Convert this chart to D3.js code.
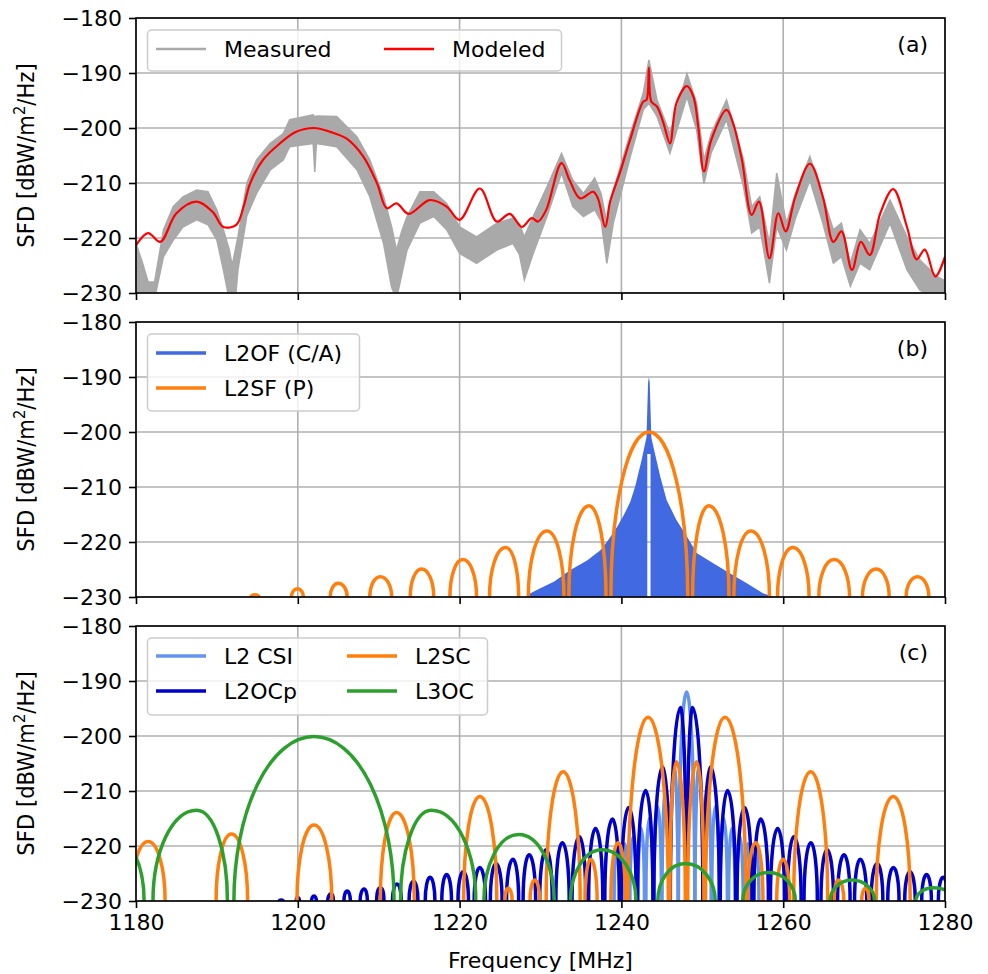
<!DOCTYPE html>
<html><head><meta charset="utf-8">
<script src="https://cdn.jsdelivr.net/npm/d3@7"></script>
<style>body{margin:0;background:#fff}</style>
</head><body><svg id="c" width="988" height="974"></svg>
<script>
// ---------- data ----------
const xTicks = [1180, 1200, 1220, 1240, 1260, 1280];
const yTicks = [-230, -220, -210, -200, -190, -180];

// Panel (a): measured band (upper / lower envelope) and modeled curve
const measuredF  = [1180,1180.8,1181.5,1182.3,1183.4,1184.6,1185.8,1187.5,1188.9,1190.0,1190.8,1191.5,1191.9,1192.3,1192.6,1193.7,1194.9,1196.6,1198.2,1199.0,1201.9,1202.1,1202.3,1204.8,1207.3,1208.9,1210.6,1211.6,1212.2,1212.8,1213.5,1215.1,1216.8,1218.4,1220.0,1222.1,1224.6,1226.6,1227.4,1228.0,1229.1,1230.8,1232.6,1234.0,1235.3,1236.7,1237.5,1238.2,1239.0,1241.1,1242.7,1243.4,1244.4,1246.0,1248.1,1249.3,1250.2,1251.1,1253.0,1255.1,1256.1,1257.1,1258.3,1259.2,1260.4,1261.5,1263.3,1264.9,1266.2,1267.2,1268.3,1269.5,1270.7,1273.2,1275.3,1276.9,1279.0,1280];
const measuredHi = [-221,-224.5,-228,-228,-218.5,-214.3,-212.5,-211.3,-211.6,-214.9,-218.5,-222,-225,-222,-219.8,-210,-205.8,-202.8,-201.0,-198.5,-197.6,-198,-197.8,-197.9,-201.6,-205.8,-212.5,-218,-222.2,-219,-216.1,-211.6,-211.6,-213.7,-218.0,-219.8,-217.3,-216.4,-217.5,-219.8,-216.1,-210.7,-204.6,-209.5,-211.9,-209.1,-212,-217.3,-211.3,-201.0,-193.7,-187.6,-194.9,-201.0,-190.1,-195.5,-205.8,-201,-194.9,-205.8,-214.3,-212.5,-221,-208.2,-217.3,-212,-205.2,-212.5,-218.5,-217.3,-224.6,-218.5,-221,-213.1,-219.8,-224,-227,-227.8];
const measuredLo = [-231,-231,-231,-231,-223.4,-220.4,-218.0,-216.7,-217.6,-220.4,-225.8,-231,-231,-231,-225.8,-216,-211.9,-207.6,-205.8,-203.4,-202.8,-208,-202.8,-203.4,-207.6,-212.5,-221,-229,-231,-227,-222.2,-217.3,-216.1,-218.5,-222.8,-224.6,-222.2,-221.0,-223,-227.6,-222.8,-216.1,-208.2,-214.3,-216.1,-214.9,-217,-224.6,-217.3,-205.2,-196.7,-195.5,-197.9,-204.6,-194.3,-200.4,-210.1,-204.5,-198.5,-210.7,-219.1,-218,-228.2,-218,-222.2,-216.5,-209.5,-217.3,-224.6,-223.4,-228.8,-224.6,-225.8,-217.3,-225.8,-229.5,-231,-231];
const modeledF = [1180,1181.5,1183.0,1185.0,1187.5,1189.5,1190.8,1192.4,1193.3,1194.1,1195.7,1197.8,1199.8,1202.0,1204.0,1206.0,1208.1,1209.8,1211.0,1212.2,1213.7,1216.3,1218.4,1220.0,1222.5,1224.6,1226.2,1227.7,1228.9,1229.7,1230.7,1232.6,1233.6,1234.9,1236.5,1237.1,1238.0,1238.6,1239.8,1241.0,1242.7,1243.1,1243.4,1243.7,1244.4,1245.2,1246.0,1246.8,1248.1,1248.9,1249.5,1250.2,1251.1,1253.0,1253.8,1254.9,1256.1,1257.0,1258.3,1259.4,1260.3,1261.5,1263.3,1264.9,1266.2,1267.2,1268.5,1269.6,1270.7,1272.0,1273.6,1275.3,1276.5,1277.5,1278.8,1280];
const modeledV = [-221.3,-219.1,-220.7,-215.5,-213.4,-215.3,-218.0,-217.6,-214.3,-210.1,-205.8,-202.8,-200.7,-200.0,-200.7,-201.9,-205.2,-210.1,-214.6,-213.7,-215.6,-213.1,-214.3,-216.7,-211.0,-217.0,-215.6,-218.0,-216.4,-217.0,-214.9,-206.4,-209.5,-212.8,-211.6,-212.8,-218.0,-213.4,-208.2,-202.5,-195.2,-194.9,-189.0,-195.2,-196.1,-199.1,-202.8,-195.5,-192.4,-194.3,-199.8,-207.9,-202.2,-196.7,-199.1,-205.8,-215.8,-213.4,-223.7,-215.5,-218.8,-212.5,-206.5,-212.5,-220.7,-218.8,-225.8,-220.7,-223.1,-215.5,-211.1,-218.0,-223.9,-222.1,-227.0,-223.4];

// Panel (b): L2OF (C/A) envelope (with carrier spike) and its central notch
const l2ofF = [1228.2,1228.4,1229.6,1231.7,1233.7,1235.8,1237.4,1238.4,1239.5,1240.3,1241.1,1241.7,1242.1,1242.5,1242.8,1243.1,1243.2,1243.3,1243.4,1243.5,1243.6,1243.7,1244.0,1244.8,1245.6,1246.8,1248.1,1249.3,1251.4,1253.4,1255.5,1257.5,1258.9];
const l2ofV = [-230,-229.6,-228.7,-227.2,-225.1,-223.3,-221.5,-219.6,-217.2,-215.1,-212.7,-209.9,-207.5,-205.1,-203.0,-201,-196,-191,-190,-191,-196,-201,-203.0,-208.1,-212.4,-216,-219,-222,-223.9,-225.7,-227.5,-229.3,-230];
const l2ofNotchF = [1243.2,1243.2,1243.6,1243.6];
const l2ofNotchV = [-231,-204,-204,-231];
// L2SF (P) lobes: [left foot, peak freq, peak level, right foot]
const l2sfLobes = [[1194.2,1194.7,-229.6,1195.2],[1199.2,1199.95,-228.5,1200.7],[1204.0,1205.0,-227.5,1206.1],[1208.9,1210.2,-226.3,1211.6],[1213.9,1215.3,-224.9,1216.8],[1218.8,1220.4,-223.2,1222.1],[1223.7,1225.7,-221.0,1227.3],[1228.5,1230.8,-218.0,1232.9],[1233.5,1236.0,-213.4,1238.1],[1238.7,1243.4,-200.0,1248.2],[1248.8,1250.8,-213.4,1253.3],[1253.9,1256.0,-218.0,1258.3],[1259.3,1261.2,-221.0,1263.2],[1264.4,1266.3,-223.2,1268.2],[1269.8,1271.5,-224.9,1273.1],[1275.2,1276.6,-226.3,1278.0]];

// Panel (c)
const l2csiLobes = [[1247.05,1248.06,-192.0,1249.07],[1246.03,1246.5,-205.5,1247.0],[1249.1,1249.6,-205.5,1250.09],[1245.02,1245.5,-209.9,1245.98],[1250.14,1250.6,-209.9,1251.1],[1244.02,1244.5,-212.8,1244.95],[1251.17,1251.6,-212.8,1252.1],[1243.03,1243.45,-215.0,1243.9],[1252.2,1252.65,-215.0,1253.1],[1242.05,1242.45,-216.8,1242.85],[1253.25,1253.65,-216.8,1254.05],[1241.05,1241.45,-218.3,1241.85],[1254.25,1254.65,-218.3,1255.05],[1240.1,1240.45,-219.6,1240.8],[1255.3,1255.65,-219.6,1256.0],[1239.1,1239.4,-220.7,1239.75],[1256.35,1256.7,-220.7,1257.0]];
const l2ocpLobes = [[1197.7,1197.95,-229.8,1198.2],[1199.8,1200.0,-229.4,1200.2],[1201.7,1202.0,-229.1,1202.3],[1203.7,1204.1,-228.7,1204.4],[1205.7,1206.1,-228.2,1206.5],[1207.7,1208.2,-227.8,1208.6],[1209.75,1210.2,-227.6,1210.65],[1211.7,1212.25,-226.9,1212.8],[1213.75,1214.3,-226.4,1214.85],[1215.75,1216.35,-225.7,1216.95],[1217.8,1218.4,-225.2,1219.0],[1219.8,1220.45,-224.7,1221.1],[1221.8,1222.5,-223.9,1223.2],[1223.8,1224.5,-223.2,1225.25],[1225.8,1226.6,-222.4,1227.3],[1227.85,1228.6,-221.6,1229.4],[1229.9,1230.7,-220.7,1231.45],[1231.9,1232.7,-219.4,1233.55],[1233.9,1234.8,-218.3,1235.6],[1235.95,1236.8,-216.8,1237.7],[1237.95,1238.9,-215.1,1239.75],[1239.97,1240.9,-213.0,1241.83],[1241.99,1243.0,-209.9,1243.9],[1244.01,1245.1,-205.6,1245.97],[1246.05,1247.3,-194.8,1248.03],[1248.09,1248.8,-194.8,1250.07],[1250.15,1251.02,-205.6,1252.11],[1252.22,1253.12,-209.9,1254.13],[1254.29,1255.22,-213.0,1256.15],[1256.37,1257.22,-215.1,1258.17],[1258.42,1259.32,-216.8,1260.17],[1260.52,1261.32,-218.3,1262.22],[1262.57,1263.42,-219.4,1264.22],[1264.67,1265.42,-220.7,1266.22],[1266.72,1267.52,-221.6,1268.27],[1268.82,1269.52,-222.4,1270.32],[1270.87,1271.62,-223.2,1272.32],[1272.92,1273.62,-223.9,1274.32],[1275.02,1275.67,-224.7,1276.32],[1277.12,1277.72,-225.2,1278.32],[1279.17,1279.77,-225.7,1280.37]];
const l2scLobes = [[1179.4,1181.5,-219.2,1183.6],[1189.9,1191.8,-217.8,1193.8],[1199.9,1202.0,-216.2,1204.2],[1210.2,1212.2,-213.9,1214.4],[1220.5,1222.5,-211.0,1224.6],[1225.6,1226.0,-227.7,1226.5],[1228.7,1229.3,-226.2,1229.9],[1230.7,1232.8,-206.5,1234.9],[1235.5,1236.2,-222.4,1237.0],[1238.7,1239.6,-219.4,1240.5],[1240.8,1243.3,-196.6,1245.8],[1246.0,1246.8,-204.7,1247.9],[1248.2,1249.3,-204.7,1250.2],[1250.4,1252.8,-196.6,1255.4],[1255.6,1256.6,-219.4,1257.5],[1259.2,1260.0,-222.4,1260.8],[1261.3,1263.4,-206.5,1265.5],[1266.3,1266.8,-226.2,1267.5],[1269.7,1270.2,-227.7,1270.6],[1271.5,1273.6,-211.0,1275.7]];
const l3ocLobes = [[1172.8,1177.0,-217.9,1181.0],[1182.1,1187.5,-213.5,1191.3],[1192.1,1202.0,-200.1,1211.9],[1212.7,1216.5,-213.5,1222.0],[1223.0,1227.3,-217.9,1231.7],[1233.7,1237.6,-220.7,1241.8],[1244.5,1247.9,-223.2,1251.6],[1255.0,1258.2,-224.8,1261.5],[1265.8,1268.5,-226.2,1271.3],[1276.4,1278.6,-227.6,1281.2]];

// ---------- layout ----------
const svg = d3.select('#c');
const L = 136, R = 945;
const panels = [{top: 18, bottom: 293, tag: '(a)'}, {top: 322, bottom: 597, tag: '(b)'}, {top: 626, bottom: 901, tag: '(c)'}];
const x = d3.scaleLinear().domain([1180, 1280]).range([L, R]);
const FONT = '"DejaVu Sans", sans-serif';
const FS = 22;
const fmt = d => String(d).replace('-', '\u2212');

panels.forEach((p, i) => {
  p.y = d3.scaleLinear().domain([-230, -180]).range([p.bottom, p.top]);
  const defs = svg.append('defs');
  defs.append('clipPath').attr('id', 'clip' + i).append('rect')
    .attr('x', L).attr('y', p.top).attr('width', R - L).attr('height', p.bottom - p.top);
  p.g = svg.append('g');
  const grid = p.g.append('g').attr('stroke', '#b0b0b0').attr('stroke-width', 1.6);
  xTicks.forEach(t => grid.append('line').attr('x1', x(t)).attr('x2', x(t)).attr('y1', p.top).attr('y2', p.bottom));
  yTicks.forEach(t => grid.append('line').attr('x1', L).attr('x2', R).attr('y1', p.y(t)).attr('y2', p.y(t)));
  p.plot = p.g.append('g').attr('clip-path', `url(#clip${i})`);
});

function lobePath(l, y) {
  const [a, pf, pv, b] = l;
  const x1 = x(a), xp = x(pf), x2 = x(b), yb = y(-230), yp = y(pv), ry = yb - yp;
  return `M${x1},${yb + 10}L${x1},${yb}A${xp - x1},${ry} 0 0 1 ${xp},${yp}A${x2 - xp},${ry} 0 0 1 ${x2},${yb}L${x2},${yb + 10}`;
}
function drawLobes(p, lobes, color, w) {
  p.plot.append('g').selectAll('path').data(lobes).join('path')
    .attr('d', l => lobePath(l, p.y)).attr('fill', 'none')
    .attr('stroke', color).attr('stroke-width', w).attr('stroke-linejoin', 'round');
}

// ---- panel a ----
{
  const p = panels[0];
  const measured = measuredF.map((f, i) => ({f, hi: measuredHi[i], lo: measuredLo[i]}));
  p.plot.append('path').datum(measured)
    .attr('d', d3.area().x(d => x(d.f)).y0(d => p.y(d.lo)).y1(d => p.y(d.hi)))
    .attr('fill', '#a9a9a9').attr('stroke', '#a9a9a9').attr('stroke-width', 1.5);
  const modeled = modeledF.map((f, i) => ({f, v: modeledV[i]}));
  p.plot.append('path').datum(modeled)
    .attr('d', d3.line().x(d => x(d.f)).y(d => p.y(d.v)).curve(d3.curveCatmullRom.alpha(0.5)))
    .attr('fill', 'none').attr('stroke', '#ff0000').attr('stroke-width', 2.2);
}
// ---- panel b ----
{
  const p = panels[1];
  const env = l2ofF.map((f, i) => ({f, v: l2ofV[i]}));
  const notch = l2ofNotchF.map((f, i) => [x(f), p.y(l2ofNotchV[i])]);
  const areaD = d3.area().x(d => x(d.f)).y0(p.y(-230)).y1(d => p.y(d.v))(env);
  p.plot.append('path').attr('d', areaD + d3.line()(notch) + 'Z')
    .attr('fill', '#4169e1').attr('fill-rule', 'evenodd');
  drawLobes(p, l2sfLobes, '#ff7f0e', 3.5);
}
// ---- panel c ----
{
  const p = panels[2];
  drawLobes(p, l2csiLobes, '#6495ed', 3.5);
  drawLobes(p, l2ocpLobes, '#0000cd', 3.5);
  drawLobes(p, l2scLobes, '#ff7f0e', 3.5);
  drawLobes(p, l3ocLobes, '#2ca02c', 3.5);
}

// ---- axes, frames, labels ----
panels.forEach((p, i) => {
  const ya = p.g.append('g').attr('transform', `translate(${L},0)`)
    .call(d3.axisLeft(p.y).tickValues(yTicks).tickSize(7).tickPadding(7).tickFormat(fmt));
  const xa = p.g.append('g').attr('transform', `translate(0,${p.bottom})`)
    .call(d3.axisBottom(x).tickValues(xTicks).tickSize(7).tickPadding(6).tickFormat(i === 2 ? d => d : () => ''));
  [ya, xa].forEach(a => {
    a.select('.domain').remove();
    a.selectAll('line').attr('stroke', '#000').attr('stroke-width', 1.6);
    a.selectAll('text').attr('font-family', FONT).attr('font-size', FS).attr('fill', '#000');
  });
  ya.selectAll('text').attr('dy', '0.36em');
  p.g.append('rect').attr('x', L).attr('y', p.top).attr('width', R - L).attr('height', p.bottom - p.top)
    .attr('fill', 'none').attr('stroke', '#000').attr('stroke-width', 1.6);
  const yl = p.g.append('text')
    .attr('transform', `translate(34,${(p.top + p.bottom) / 2}) rotate(-90) scale(0.92,1)`)
    .attr('text-anchor', 'middle').attr('font-family', FONT).attr('font-size', 23);
  yl.append('tspan').text('SFD [dBW/m');
  yl.append('tspan').attr('font-size', 16).attr('dy', -9).text('2');
  yl.append('tspan').attr('dy', 9).text('/Hz]');
  p.g.append('text').attr('x', 928).attr('y', p.top + 34).attr('text-anchor', 'end')
    .attr('font-family', FONT).attr('font-size', FS).text(p.tag);
});
svg.append('text').attr('x', (L + R) / 2).attr('y', 968).attr('text-anchor', 'middle')
  .attr('font-family', FONT).attr('font-size', FS).text('Frequency [MHz]');

// ---- legends ----
function legend(p, w, h, items) {
  const lg = p.g.append('g');
  lg.append('rect').attr('x', 147.5).attr('y', p.top + 12).attr('width', w).attr('height', h).attr('rx', 4)
    .attr('fill', 'rgba(255,255,255,0.8)').attr('stroke', '#cccccc').attr('stroke-width', 1.5);
  items.forEach(it => {
    lg.append('line').attr('x1', it.x).attr('x2', it.x + 50).attr('y1', p.top + it.dy).attr('y2', p.top + it.dy)
      .attr('stroke', it.c).attr('stroke-width', it.w);
    lg.append('text').attr('x', it.x + 68).attr('y', p.top + it.dy + 8).attr('font-family', FONT)
      .attr('font-size', FS).text(it.t);
  });
}
legend(panels[0], 414, 41, [{x: 156, dy: 31, c: '#a9a9a9', w: 2.5, t: 'Measured'}, {x: 384, dy: 31, c: '#ff0000', w: 2.5, t: 'Modeled'}]);
legend(panels[1], 212, 77, [{x: 156, dy: 31, c: '#4169e1', w: 3.5, t: 'L2OF (C/A)'}, {x: 156, dy: 66, c: '#ff7f0e', w: 3.5, t: 'L2SF (P)'}]);
legend(panels[2], 340, 77, [{x: 156, dy: 30, c: '#6495ed', w: 3.5, t: 'L2 CSI'}, {x: 156, dy: 65, c: '#0000cd', w: 3.5, t: 'L2OCp'},
  {x: 347, dy: 30, c: '#ff7f0e', w: 3.5, t: 'L2SC'}, {x: 347, dy: 65, c: '#2ca02c', w: 3.5, t: 'L3OC'}]);
</script></body></html>
